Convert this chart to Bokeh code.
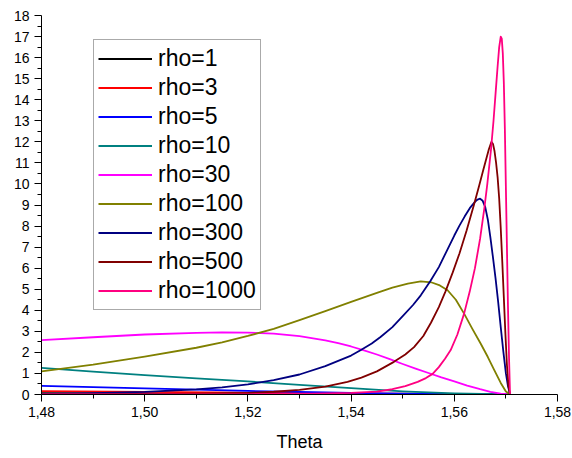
from bokeh.plotting import figure
from bokeh.models import Range1d, FixedTicker, CustomJSTickFormatter, Legend, LegendItem
from bokeh.embed import file_html
from bokeh.resources import INLINE

# ---- data: density vs. theta for several rho values ----
theta_rho1 = [1.48, 1.50, 1.52, 1.54, 1.56, 1.5708]
dens_rho1 = [0.06, 0.05, 0.04, 0.03, 0.015, 0.0]

theta_rho3 = [1.48, 1.50, 1.52, 1.54, 1.56, 1.5708]
dens_rho3 = [0.16, 0.12, 0.085, 0.055, 0.025, 0.0]

theta_rho5 = [1.48, 1.49, 1.50, 1.51, 1.52, 1.53, 1.54, 1.55, 1.56, 1.5708]
dens_rho5 = [0.41, 0.35, 0.29, 0.23, 0.17, 0.12, 0.08, 0.045, 0.02, 0.0]

theta_rho10 = [1.48, 1.49, 1.50, 1.51, 1.52, 1.53, 1.54, 1.55, 1.56, 1.5708]
dens_rho10 = [1.26, 1.09, 0.92, 0.77, 0.62, 0.46, 0.30, 0.15, 0.05, 0.0]

theta_rho30 = [1.48, 1.49, 1.50, 1.51, 1.515, 1.52, 1.525, 1.53, 1.535, 1.5375,
               1.54, 1.5425, 1.545, 1.5475, 1.55, 1.5525, 1.555, 1.5575, 1.56,
               1.5625, 1.565, 1.567, 1.569, 1.5708]
dens_rho30 = [2.58, 2.72, 2.85, 2.93, 2.95, 2.94, 2.89, 2.77, 2.57, 2.44,
              2.28, 2.10, 1.90, 1.68, 1.45, 1.23, 1.02, 0.81, 0.62,
              0.42, 0.25, 0.13, 0.04, 0.0]

theta_rho100 = [1.48, 1.49, 1.50, 1.51, 1.515, 1.52, 1.525, 1.53, 1.535, 1.54,
                1.545, 1.548, 1.551, 1.5535, 1.5555, 1.5572, 1.5587, 1.5603,
                1.5619, 1.5635, 1.5651, 1.5665, 1.5677, 1.569, 1.570, 1.5708]
dens_rho100 = [1.10, 1.42, 1.80, 2.22, 2.47, 2.78, 3.12, 3.53, 3.96, 4.40,
               4.83, 5.08, 5.27, 5.37, 5.33, 5.18, 4.95, 4.50,
               3.84, 3.12, 2.42, 1.78, 1.18, 0.55, 0.14, 0.0]

theta_rho300 = [1.48, 1.49, 1.50, 1.51, 1.515, 1.52, 1.525, 1.53, 1.535, 1.54,
                1.5419, 1.544, 1.5457, 1.548, 1.55, 1.552, 1.5535, 1.5554,
                1.557, 1.5585, 1.56, 1.561, 1.562, 1.563, 1.564, 1.5645,
                1.565, 1.5655, 1.566, 1.5665, 1.567, 1.5675, 1.568, 1.5685,
                1.569, 1.5695, 1.570, 1.5704, 1.5708]
dens_rho300 = [0.03, 0.06, 0.12, 0.24, 0.34, 0.48, 0.68, 0.95, 1.35, 1.85,
               2.11, 2.42, 2.73, 3.20, 3.72, 4.25, 4.71, 5.40,
               6.05, 6.80, 7.55, 8.02, 8.45, 8.85, 9.15, 9.26,
               9.30, 9.20, 8.90, 8.30, 7.45, 6.50, 5.50, 4.40,
               3.20, 2.05, 1.00, 0.40, 0.0]

theta_rho500 = [1.48, 1.49, 1.50, 1.51, 1.52, 1.525, 1.53, 1.535, 1.5393, 1.542,
                1.545, 1.5483, 1.5505, 1.5522, 1.554, 1.5555, 1.557, 1.5583,
                1.5597, 1.561, 1.5624, 1.5638, 1.5648, 1.5656, 1.5662, 1.5667,
                1.5672, 1.5675, 1.5678, 1.5681, 1.5684, 1.5687, 1.569, 1.5693,
                1.5696, 1.5699, 1.5702, 1.5705, 1.5708]
dens_rho500 = [0.0, 0.01, 0.02, 0.04, 0.08, 0.13, 0.22, 0.37, 0.60, 0.80,
               1.10, 1.55, 1.90, 2.25, 2.78, 3.42, 4.15, 4.90,
               5.80, 6.70, 7.80, 9.00, 9.90, 10.65, 11.20, 11.65,
               12.00, 11.90, 11.55, 11.00, 10.30, 9.30, 7.90, 6.30,
               4.60, 2.90, 1.40, 0.40, 0.0]

theta_rho1000 = [1.48, 1.50, 1.52, 1.53, 1.54, 1.545, 1.548, 1.5505, 1.5529,
                 1.5545, 1.5558, 1.557, 1.5582, 1.5593, 1.5606, 1.5619, 1.563,
                 1.564, 1.565, 1.5658, 1.5664, 1.5671, 1.5676, 1.568, 1.5684,
                 1.5687, 1.569, 1.5692, 1.5694, 1.5696, 1.5698, 1.570, 1.5702,
                 1.5704, 1.5706, 1.5708]
dens_rho1000 = [0.0, 0.0, 0.01, 0.03, 0.08, 0.14, 0.25, 0.40, 0.60,
                0.78, 0.98, 1.30, 1.70, 2.11, 2.85, 3.84, 4.90,
                6.00, 7.40, 8.80, 10.00, 11.60, 13.00, 14.30, 15.60,
                16.50, 17.00, 16.90, 16.20, 14.80, 12.60, 9.80, 7.00,
                4.20, 1.80, 0.0]

series_labels = ["rho=1", "rho=3", "rho=5", "rho=10", "rho=30",
                 "rho=100", "rho=300", "rho=500", "rho=1000"]
series_colors = ["#000000", "#FF0000", "#0000FF", "#008080", "#FF00FF",
                 "#808000", "#000080", "#800000", "#FF0080"]

x_ticks = [1.48, 1.50, 1.52, 1.54, 1.56, 1.58]
x_minor_ticks = [1.49, 1.51, 1.53, 1.55, 1.57]
y_ticks = [0, 1, 2, 3, 4, 5, 6, 7, 8, 9, 10, 11, 12, 13, 14, 15, 16, 17, 18]
y_minor_ticks = [0.5, 1.5, 2.5, 3.5, 4.5, 5.5, 6.5, 7.5, 8.5, 9.5, 10.5,
                 11.5, 12.5, 13.5, 14.5, 15.5, 16.5, 17.5]

FONT = "Liberation Sans"

p = figure(width=572, height=458, output_backend="svg", toolbar_location=None,
           x_range=Range1d(1.48, 1.58), y_range=Range1d(0, 18),
           min_border_left=41, min_border_right=15,
           min_border_top=15, min_border_bottom=64)
p.outline_line_color = None
p.xgrid.visible = False
p.ygrid.visible = False
p.background_fill_color = "white"
p.border_fill_color = "white"

xs_all = [theta_rho1, theta_rho3, theta_rho5, theta_rho10, theta_rho30,
          theta_rho100, theta_rho300, theta_rho500, theta_rho1000]
ys_all = [dens_rho1, dens_rho3, dens_rho5, dens_rho10, dens_rho30,
          dens_rho100, dens_rho300, dens_rho500, dens_rho1000]

items = []
for xs, ys, lab, col in zip(xs_all, ys_all, series_labels, series_colors):
    r = p.line(xs, ys, line_color=col, line_width=1.8, line_join="round")
    items.append(LegendItem(label=lab, renderers=[r]))

legend = Legend(items=items, location=(52, 84))
legend.label_text_font = FONT
legend.label_text_font_size = "23px"
legend.label_text_color = "black"
legend.glyph_width = 54
legend.glyph_height = 29
legend.label_height = 29
legend.label_standoff = 6
legend.spacing = 0
legend.padding = 4
legend.margin = 0
legend.border_line_color = "#555555"
legend.border_line_width = 1
legend.background_fill_color = "white"
legend.background_fill_alpha = 1.0
p.add_layout(legend)

fmt = CustomJSTickFormatter(code="return tick.toFixed(2).replace('.', ',');")
p.xaxis.ticker = FixedTicker(ticks=x_ticks, minor_ticks=x_minor_ticks)
p.xaxis.formatter = fmt
p.yaxis.ticker = FixedTicker(ticks=y_ticks, minor_ticks=y_minor_ticks)

for ax in (p.xaxis[0], p.yaxis[0]):
    ax.axis_line_color = "black"
    ax.axis_line_width = 1
    ax.major_tick_line_color = "black"
    ax.minor_tick_line_color = "black"
    ax.major_tick_out = 7
    ax.major_tick_in = 0
    ax.minor_tick_out = 4
    ax.minor_tick_in = 0
    ax.major_label_text_font = FONT
    ax.major_label_text_font_size = "14px"
    ax.major_label_text_color = "black"
    ax.major_label_standoff = 5

p.xaxis.axis_label = "Theta"
p.xaxis.axis_label_text_font = FONT
p.xaxis.axis_label_text_font_size = "18px"
p.xaxis.axis_label_text_font_style = "normal"
p.xaxis.axis_label_text_color = "black"
p.xaxis.axis_label_standoff = 12

open("out.html", "w").write(file_html(p, INLINE))
